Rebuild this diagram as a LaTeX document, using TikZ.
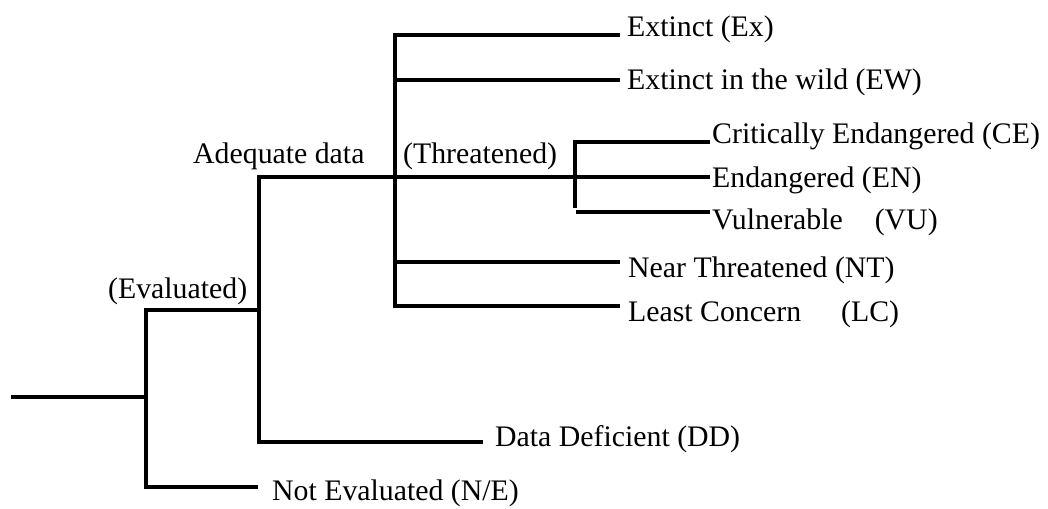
\documentclass[tikz,border=0pt]{standalone}
\usepackage{fontspec}
\setmainfont{Liberation Serif}
\begin{document}
\begin{tikzpicture}[x=1pt,y=-1pt,
  lbl/.style={anchor=base west,inner sep=0pt,font=\fontsize{29.8}{36}\selectfont},
  branch/.style={line width=3.8pt,line join=miter,black}]
\useasboundingbox (0,0) rectangle (1048,508);
% junctions and line ends
\coordinate (root) at (11,397);
\coordinate (aroot) at (146,397);
\coordinate (atop) at (146,310);
\coordinate (abot) at (146,487);
\coordinate (bev) at (259,310);
\coordinate (neend) at (258,487);
\coordinate (bbot) at (259,442);
\coordinate (btop) at (259,177);
\coordinate (ddend) at (483,442);
\coordinate (enend) at (710,177);
\coordinate (ctop) at (395,35);
\coordinate (cbot) at (395,306);
\coordinate (cew) at (395,80);
\coordinate (cnt) at (395,262);
\coordinate (exend) at (620,35);
\coordinate (ewend) at (620,80);
\coordinate (ntend) at (620,262);
\coordinate (lcend) at (620,306);
\coordinate (dtop) at (575,142);
\coordinate (dbot) at (575,208);
\coordinate (dvu) at (576,212);
\coordinate (ceend) at (710,142);
\coordinate (vuend) at (710,212);
% connectors
\draw[branch] (root) -- (aroot);
\draw[branch] (bev) -- (atop) -- (abot) -- (neend);
\draw[branch] (ddend) -- (bbot) -- (btop) -- (enend);
\draw[branch] (exend) -- (ctop) -- (cbot) -- (lcend);
\draw[branch] (cew) -- (ewend);
\draw[branch] (cnt) -- (ntend);
\draw[branch] (ceend) -- (dtop) -- (dbot);
\draw[branch] (dvu) -- (vuend);
% labels
\node[lbl] (ex) at (627,37) {Extinct (Ex)};
\node[lbl] (ew) at (627,90) {Extinct in the wild (EW)};
\node[lbl] (ce) at (712,143) {Critically Endangered (CE)};
\node[lbl] (en) at (712,187) {Endangered (EN)};
\node[lbl] (vu) at (712,229) {Vulnerable\hspace{32pt}(VU)};
\node[lbl] (nt) at (628,277) {Near Threatened (NT)};
\node[lbl] (lc) at (628,321) {Least Concern\hspace{40pt}(LC)};
\node[lbl] (dd) at (495,446) {Data Deficient (DD)};
\node[lbl] (ne) at (272,500) {Not Evaluated (N/E)};
\node[lbl] (ad) at (193,163) {Adequate data};
\node[lbl] (th) at (403,163) {(Threatened)};
\node[lbl] (ev) at (108,298) {(Evaluated)};
\end{tikzpicture}
\end{document}
